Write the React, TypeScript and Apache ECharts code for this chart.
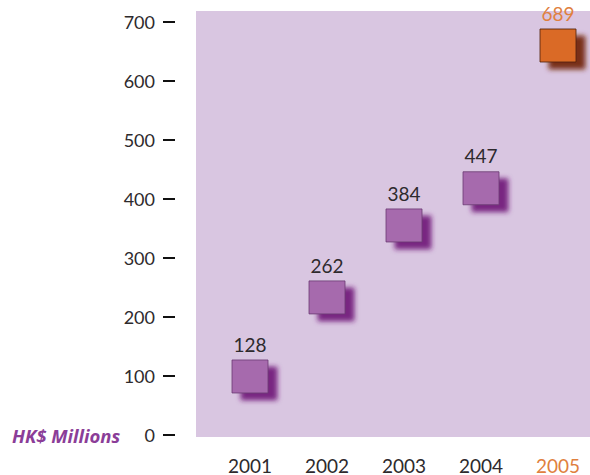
import React, { useEffect, useRef } from "react";
import * as echarts from "echarts";

const years = ["2001", "2002", "2003", "2004", "2005"];
const values = [128, 262, 384, 447, 689];
const yTicks = [0, 100, 200, 300, 400, 500, 600, 700];
const unitLabel = "HK$ Millions";

const PURPLE = "#a66bad";
const ORANGE = "#da6b27";
const TEXT = "#2e2a2d";
const ORANGE_TEXT = "#e0803e";
const FONT = "Lato, 'Open Sans', sans-serif";

export default function App() {
  const ref = useRef<HTMLDivElement>(null);
  useEffect(() => {
    if (!ref.current) return;
    const chart = echarts.init(ref.current, null, { renderer: "svg" });
    const last = years.length - 1;
    chart.setOption({
      animation: false,
      graphic: [
        {
          type: "rect",
          z: -10,
          shape: { x: 196, y: 11, width: 394, height: 426 },
          style: { fill: "#d9c6e1" },
        },
        {
          type: "text",
          x: 12,
          y: 435,
          style: {
            text: unitLabel,
            font: "italic bold 18.5px 'Open Sans', sans-serif",
            fill: "#8b3d98",
            verticalAlign: "middle",
          },
        },
      ],
      grid: { left: 250, right: 32, top: 22, bottom: 40 },
      xAxis: {
        type: "category",
        data: years,
        boundaryGap: false,
        axisLine: { show: false },
        axisTick: { show: false },
        axisLabel: {
          margin: 22,
          fontSize: 19,
          lineHeight: 16,
          fontFamily: FONT,
          color: (v: string, i: number) => (i === last ? ORANGE_TEXT : TEXT),
        },
      },
      yAxis: {
        type: "value",
        position: "left",
        offset: 75,
        min: yTicks[0],
        max: yTicks[yTicks.length - 1],
        interval: 100,
        splitLine: { show: false },
        axisLine: { show: false },
        axisTick: {
          show: true,
          inside: false,
          length: 12,
          lineStyle: { color: "#111", width: 2 },
        },
        axisLabel: {
          margin: 20,
          fontSize: 18,
          fontFamily: FONT,
          color: TEXT,
        },
      },
      series: [
        {
          type: "scatter",
          symbol: "rect",
          symbolSize: [36, 33],
          symbolOffset: [0, 17],
          data: values.map((v, i) => ({
            value: v,
            itemStyle: {
              opacity: 1,
              color: i === last ? ORANGE : PURPLE,
              borderColor: i === last ? "#4a2008" : "#6a3872",
              borderWidth: 0.8,
              shadowColor: i === last ? "rgba(115,40,8,0.95)" : "rgba(115,28,125,0.95)",
              shadowBlur: 5,
              shadowOffsetX: 9,
              shadowOffsetY: 7,
            },
            label: { color: i === last ? ORANGE_TEXT : TEXT },
          })),
          label: {
            show: true,
            position: "top",
            distance: 6,
            fontSize: 19,
            fontFamily: FONT,
          },
        },
      ],
    });
    return () => chart.dispose();
  }, []);
  return <div ref={ref} style={{ width: 590, height: 475, position: "absolute", left: 0, top: 0 }} />;
}
